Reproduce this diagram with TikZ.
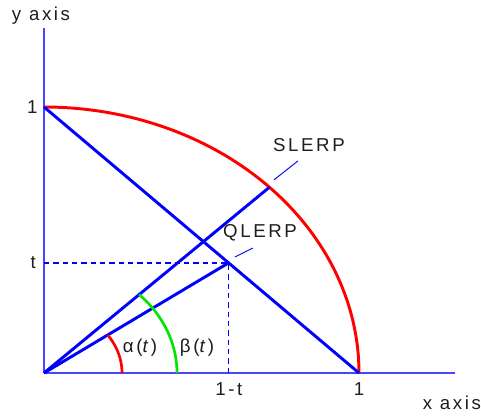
\documentclass[tikz,border=0pt]{standalone}
\usepackage{fontspec}
\setmainfont{Liberation Sans}
\usetikzlibrary{calc}
\definecolor{axblue}{RGB}{70,70,255}
\definecolor{lblue}{RGB}{0,0,255}
\definecolor{lred}{RGB}{255,0,0}
\definecolor{lgreen}{RGB}{0,230,0}
\definecolor{txt}{RGB}{30,30,30}
\begin{document}
\begin{tikzpicture}[x=236.25pt,y=199.5pt,
  axis/.style={axblue,line width=1.5pt},
  thick blue/.style={lblue,line width=2.2pt},
  dashline/.style={lblue,line width=1pt,dash pattern=on 4pt off 3pt},
  leader/.style={lblue,line width=0.7pt},
  lbl/.style={text=txt,font=\fontsize{14}{16}\selectfont\addfontfeature{LetterSpace=14},inner sep=0pt}]
\useasboundingbox ({-44/315},{-43/266}) rectangle ({437/315},{373/266});
\coordinate (O) at (0,0);
\coordinate (A) at (0,1);
\coordinate (B) at (1,0);
\coordinate (Yend) at (0,1.297);
\coordinate (Xend) at (1.305,0);
\coordinate (S) at ({cos(44.3)},{sin(44.3)});
\coordinate (Q) at (0.586,0.414);
\coordinate (Qy) at (0,0.414);
\coordinate (Qx) at (0.586,0);
% axes
\draw[axis] (O) -- (Yend);
\draw[axis] (O) -- (Xend);
% dashed
\draw[dashline] (Qy) -- (Q) -- (Qx);
% red quarter ellipse
\draw[lred,line width=2.2pt] plot[domain=0:90,samples=90] ({cos(\x)},{sin(\x)});
% lines
\draw[thick blue] (A) -- (B);
\draw[thick blue] (O) -- (S);
\draw[thick blue] (O) -- (Q);
% angle arcs
\draw[lred,line width=2pt] plot[domain=0:35.24,samples=30] ({0.2476*cos(\x)},{0.2476*sin(\x)});
\draw[lgreen,line width=2pt] plot[domain=0:44.3,samples=40] ({0.4222*cos(\x)},{0.4222*sin(\x)});
% leaders
\coordinate (Sl1) at (0.730,0.726);
\coordinate (Sl2) at (0.806,0.797);
\coordinate (Ql1) at (0.606,0.436);
\coordinate (Ql2) at (0.663,0.470);
\draw[leader] (Sl1) -- (Sl2);
\draw[leader] (Ql1) -- (Ql2);
% labels
\node[lbl] (ylab) at (-0.0095,1.342) {y axis};
\node[lbl] (xlab) at (1.295,-0.113) {x axis};
\node[lbl,anchor=east] (one y) at (-0.02,1.0) {1};
\node[lbl,anchor=east] (t y) at (-0.025,0.414) {t};
\node[lbl] (one x) at (1,-0.06) {1};
\node[lbl] (omt x) at (0.587,-0.06) {1-t};
\node[lbl] (slerp) at (0.841,0.857) {SLERP};
\node[lbl] (qlerp) at (0.686,0.526) {QLERP};
\node[lbl] (alpha) at (0.305,0.094) {α(\textit{t})};
\node[lbl] (beta) at (0.486,0.094) {β(\textit{t})};
\end{tikzpicture}
\end{document}
